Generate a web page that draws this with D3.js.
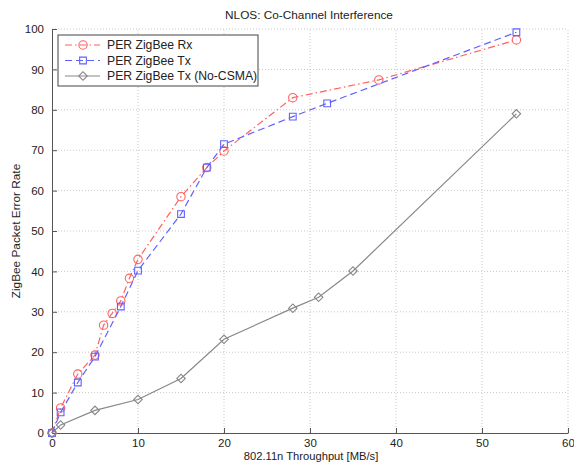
<!DOCTYPE html>
<html>
<head>
<meta charset="utf-8">
<script src="https://cdn.jsdelivr.net/npm/d3@7"></script>
<style>
body { margin: 0; background: #fff; }
text { font-family: "Liberation Sans", Arial, sans-serif; }
</style>
</head>
<body>
<div id="chart"></div>
<script>
// NLOS co-channel interference data
var rxX = [0, 1, 3, 5, 6, 7, 8, 9, 10, 15, 18, 20, 28, 38, 54];
var rxY = [0, 6.2, 14.6, 19.3, 26.7, 29.6, 32.7, 38.3, 43, 58.5, 65.7, 69.8, 83, 87.4, 97.3];
var txX = [0, 1, 3, 5, 8, 10, 15, 18, 20, 28, 32, 54];
var txY = [0, 5.1, 12.5, 18.9, 31.3, 40.2, 54.2, 65.7, 71.5, 78.3, 81.6, 99.2];
var ncX = [0, 1, 5, 10, 15, 20, 28, 31, 35, 54];
var ncY = [0, 2.0, 5.6, 8.3, 13.5, 23.2, 30.9, 33.6, 40.1, 79];
var xTicks = [0, 10, 20, 30, 40, 50, 60];
var yTicks = [0, 10, 20, 30, 40, 50, 60, 70, 80, 90, 100];
var names = ["PER ZigBee Rx", "PER ZigBee Tx", "PER ZigBee Tx (No-CSMA)"];

var width = 574,
    height = 463;

var svg = d3.select("#chart")
    .append("svg")
    .attr("width", width)
    .attr("height", height);

var xScale = d3.scaleLinear().domain([0, 60]).range([52, 568]);
var yScale = d3.scaleLinear().domain([0, 100]).range([433, 29]);

// grid
svg.append("g").selectAll("line").data(xTicks.slice(1)).join("line")
    .attr("x1", function(d){ return xScale(d)}).attr("x2", function(d){ return xScale(d)})
    .attr("y1", yScale(0)).attr("y2", yScale(100))
    .attr("stroke", "#c8c8c8").attr("stroke-dasharray", "1,2");
svg.append("g").selectAll("line").data(yTicks.slice(1)).join("line")
    .attr("y1", function(d){ return yScale(d)}).attr("y2", function(d){ return yScale(d)})
    .attr("x1", xScale(0)).attr("x2", xScale(60))
    .attr("stroke", "#c8c8c8").attr("stroke-dasharray", "1,2");

var xAxis = d3.axisBottom(xScale).tickValues(xTicks).tickSizeInner(-5).tickSizeOuter(0).tickPadding(6);
var yAxis = d3.axisLeft(yScale).tickValues(yTicks).tickSizeInner(-5).tickSizeOuter(0).tickPadding(8);

var gx = svg.append("g").attr("transform", "translate(0," + yScale(0) + ")").call(xAxis);
var gy = svg.append("g").attr("transform", "translate(" + xScale(0) + ",0)").call(yAxis);
[gx, gy].forEach(function(g){
    g.select(".domain").attr("stroke", "#555");
    g.selectAll(".tick line").attr("stroke", "#555");
    g.selectAll("text").attr("font-size", 11.5).attr("fill", "#222")
        .style("font-family", "Liberation Sans, Arial, sans-serif");
});

var line = d3.line()
    .x(function(d){ return xScale(d[0])})
    .y(function(d){ return yScale(d[1])});

var series = [
    {x: rxX, y: rxY, color: "#ff6060", dash: "7,3,1.5,3", sym: d3.symbolCircle, size: 55, rot: 0},
    {x: txX, y: txY, color: "#6060ff", dash: "7,4", sym: d3.symbolSquare, size: 45, rot: 0},
    {x: ncX, y: ncY, color: "#888888", dash: null, sym: d3.symbolSquare, size: 36, rot: 45}
];

series.forEach(function(s){
    var pts = s.x.map(function(v, i){ return [v, s.y[i]]; });
    svg.append("path")
        .attr("d", line(pts))
        .attr("fill", "none")
        .attr("stroke", s.color)
        .attr("stroke-width", 1.2)
        .attr("stroke-dasharray", s.dash);
    svg.append("g").selectAll("path").data(pts).join("path")
        .attr("transform", function(d){ return "translate(" + xScale(d[0]) + "," + yScale(d[1]) + ") rotate(" + s.rot + ")"; })
        .attr("d", d3.symbol().type(s.sym).size(s.size))
        .attr("fill", "none")
        .attr("stroke", s.color)
        .attr("stroke-width", 1.1);
});

// legend
var lg = svg.append("g");
lg.append("rect").attr("x", 58).attr("y", 35).attr("width", 200).attr("height", 51)
    .attr("fill", "#fff").attr("stroke", "#444").attr("stroke-width", 1);
series.forEach(function(s, i){
    var y = 45 + i * 15.5;
    lg.append("line").attr("x1", 65).attr("x2", 100).attr("y1", y).attr("y2", y)
        .attr("stroke", s.color).attr("stroke-width", 1.2).attr("stroke-dasharray", s.dash);
    lg.append("path").attr("transform", "translate(83," + y + ") rotate(" + s.rot + ")")
        .attr("d", d3.symbol().type(s.sym).size(s.size))
        .attr("fill", "none").attr("stroke", s.color).attr("stroke-width", 1.1);
    lg.append("text").attr("x", 107).attr("y", y + 4).attr("font-size", 12.2).attr("fill", "#222")
        .text(names[i]);
});

svg.append("text").attr("x", 309).attr("y", 19).attr("text-anchor", "middle")
    .attr("font-size", 11.8).attr("fill", "#222").text("NLOS: Co-Channel Interference");
svg.append("text").attr("x", 311).attr("y", 460).attr("text-anchor", "middle")
    .attr("font-size", 11.2).attr("fill", "#222").text("802.11n Throughput [MB/s]");
svg.append("text").attr("transform", "translate(20,231) rotate(-90)").attr("text-anchor", "middle")
    .attr("font-size", 11.8).attr("fill", "#222").text("ZigBee Packet Error Rate");
</script>
</body>
</html>
